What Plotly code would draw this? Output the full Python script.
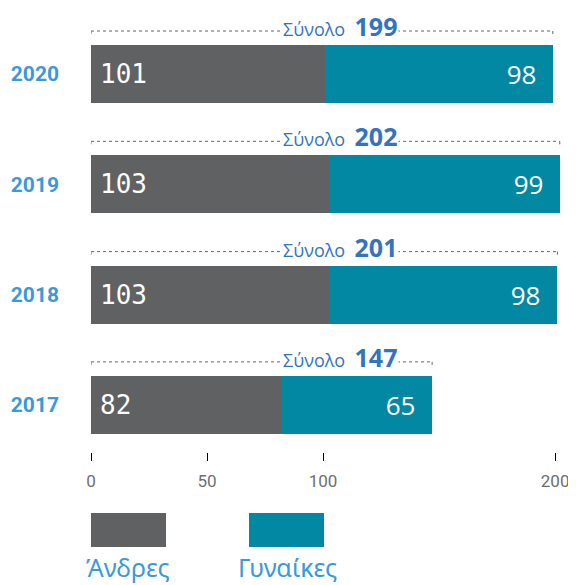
import plotly.graph_objects as go

years = ['2020', '2019', '2018', '2017']
men = [101, 103, 103, 82]
women = [98, 99, 98, 65]
totals = [199, 202, 201, 147]
tick_values = [0, 50, 100, 200]

grey = '#606163'
teal = '#0388a4'
year_blue = '#3a9ad9'
total_blue = '#3474bf'

ypos = list(range(len(years)))

# page body has an 8px margin, so figure sits at (8, 8)
OFF = 8
fig_w, fig_h = 576 - OFF, 585 - OFF

fig = go.Figure()
fig.add_trace(go.Bar(
    y=ypos, x=men, orientation='h', name='Άνδρες',
    marker=dict(color=grey, line=dict(width=0)),
    text=["<span style='font-size:10px'>\u00a0</span>" + str(v) for v in men],
    textposition='inside', insidetextanchor='start',
    textfont=dict(family='DejaVu Sans Mono', size=26, color='white'),
    width=0.526, showlegend=False))
fig.add_trace(go.Bar(
    y=ypos, x=women, orientation='h', name='Γυναίκες',
    marker=dict(color=teal, line=dict(width=0)),
    text=[str(v) + '\u00a0\u00a0' for v in women], textposition='inside',
    insidetextanchor='end',
    textfont=dict(family='Open Sans', size=26, color='white'),
    width=0.526, showlegend=False))

# total brackets with dotted line
for y, t in zip(ypos, totals):
    ly = y - 0.39
    fig.add_shape(type='line', xref='x', yref='y', x0=0, x1=t, y0=ly, y1=ly,
                  line=dict(color='#666666', width=1, dash='dot'))
    for xe in (0, t):
        fig.add_shape(type='line', xref='x', yref='y', x0=xe, x1=xe,
                      y0=ly, y1=ly + 0.055,
                      line=dict(color='#666666', width=1, dash='dot'))
    fig.add_annotation(
        x=0.513, xref='paper', y=ly, yref='y', yshift=5,
        text="Σύνολο  <b><span style='font-size:25px'>%d</span></b>" % t,
        showarrow=False, bgcolor='white', borderpad=1,
        font=dict(family='Open Sans', size=18, color=total_blue))

# legend (page pixel -> paper coords)
W, H = 485, 432
def px(p):
    return (p - 91) / W
def py(p):
    return (452 - p) / H

for x0, x1, col in [(91, 166, grey), (249, 324, teal)]:
    fig.add_shape(type='rect', xref='paper', yref='paper',
                  x0=px(x0), x1=px(x1), y0=py(547), y1=py(513),
                  fillcolor=col, line=dict(width=0))
for cx, lab in [(128, 'Άνδρες'), (287, 'Γυναίκες')]:
    fig.add_annotation(x=px(cx), y=py(567), xref='paper', yref='paper',
                       text=lab, showarrow=False, xanchor='center',
                       yanchor='middle',
                       font=dict(family='Noto Sans', size=25, color=year_blue))

fig.update_layout(
    barmode='stack',
    width=fig_w, height=fig_h,
    margin=dict(l=91 - OFF, r=0, t=20 - OFF, b=fig_h - (452 - OFF)),
    plot_bgcolor='white', paper_bgcolor='white',
    bargap=0,
    xaxis=dict(range=[0, 209], tickvals=tick_values, showgrid=False,
               zeroline=False, showline=False, ticks='outside', ticklen=8,
               tickcolor='black', tickwidth=1, ticklabelstandoff=6,
               ticklabeloverflow='allow',
               tickfont=dict(family='Roboto', size=17, color='#6d6e70')),
    yaxis=dict(range=[3.427, -0.49], tickvals=ypos, ticktext=years,
               showgrid=False, zeroline=False, showline=False,
               ticklabelstandoff=31,
               tickfont=dict(family='Roboto', size=21,
                             color=year_blue, weight='bold')),
)

fig.write_html("out.html")
